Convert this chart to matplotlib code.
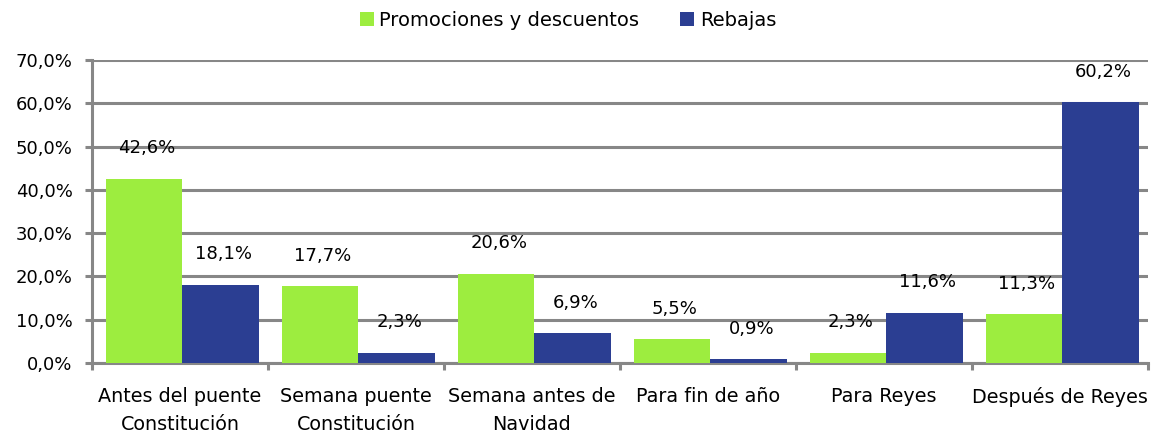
import matplotlib.pyplot as plt
import numpy as np

categories = [
    "Antes del puente\nConstitución",
    "Semana puente\nConstitución",
    "Semana antes de\nNavidad",
    "Para fin de año",
    "Para Reyes",
    "Después de Reyes",
]
promociones = [42.6, 17.7, 20.6, 5.5, 2.3, 11.3]
rebajas = [18.1, 2.3, 6.9, 0.9, 11.6, 60.2]
series_names = ["Promociones y descuentos", "Rebajas"]

green = "#9ded3f"
blue = "#2b3e92"
gray = "#878787"


def pct(v):
    return f"{v:.1f}%".replace(".", ",")


fig = plt.figure(figsize=(11.6, 4.38), dpi=100)
ax = fig.add_axes([92 / 1160, 75 / 438, 1056 / 1160, 303 / 438])

x = np.arange(len(categories))
width = 0.435
shift = 0.014
bars_g = ax.bar(x + shift - width / 2, promociones, width, color=green,
                label=series_names[0], zorder=3)
bars_b = ax.bar(x + shift + width / 2, rebajas, width, color=blue,
                label=series_names[1], zorder=3)

for bars, vals in [(bars_g, promociones), (bars_b, rebajas)]:
    for b, v in zip(bars, vals):
        ax.annotate(pct(v), (b.get_x() + b.get_width() / 2, v),
                    xytext=(2, 22), textcoords="offset points",
                    ha="center", va="center", fontsize=13, zorder=4)

ax.set_xlim(-0.5, len(categories) - 0.5)
ax.set_ylim(0, 70)
ax.set_yticks(np.arange(0, 71, 10))
ax.set_yticklabels([pct(v) for v in np.arange(0, 71, 10)], fontsize=13)
ax.yaxis.grid(True, color=gray, linewidth=2.2, zorder=0)
ax.set_axisbelow(True)

ax.set_xticks(np.arange(-0.5, len(categories), 1.0))
ax.set_xticklabels([])
ax.set_xticks(x, minor=True)
ax.set_xticklabels(categories, minor=True, fontsize=13.8, linespacing=1.6)
ax.tick_params(axis="x", which="minor", length=0, pad=17)
ax.tick_params(axis="x", which="major", length=5, width=2.2, color=gray)
ax.tick_params(axis="y", length=5, width=2.2, color=gray, pad=9)

for side in ["top", "right"]:
    ax.spines[side].set_visible(False)
for side in ["left", "bottom"]:
    ax.spines[side].set_color(gray)
    ax.spines[side].set_linewidth(2.2)

fig.legend(loc="center", bbox_to_anchor=(568 / 1160, 1 - 20 / 438), ncol=2,
           frameon=False, fontsize=14, handlelength=0.7, handleheight=0.7,
           handletextpad=0.3, columnspacing=2.1)

fig.savefig("out.png", dpi=100)
